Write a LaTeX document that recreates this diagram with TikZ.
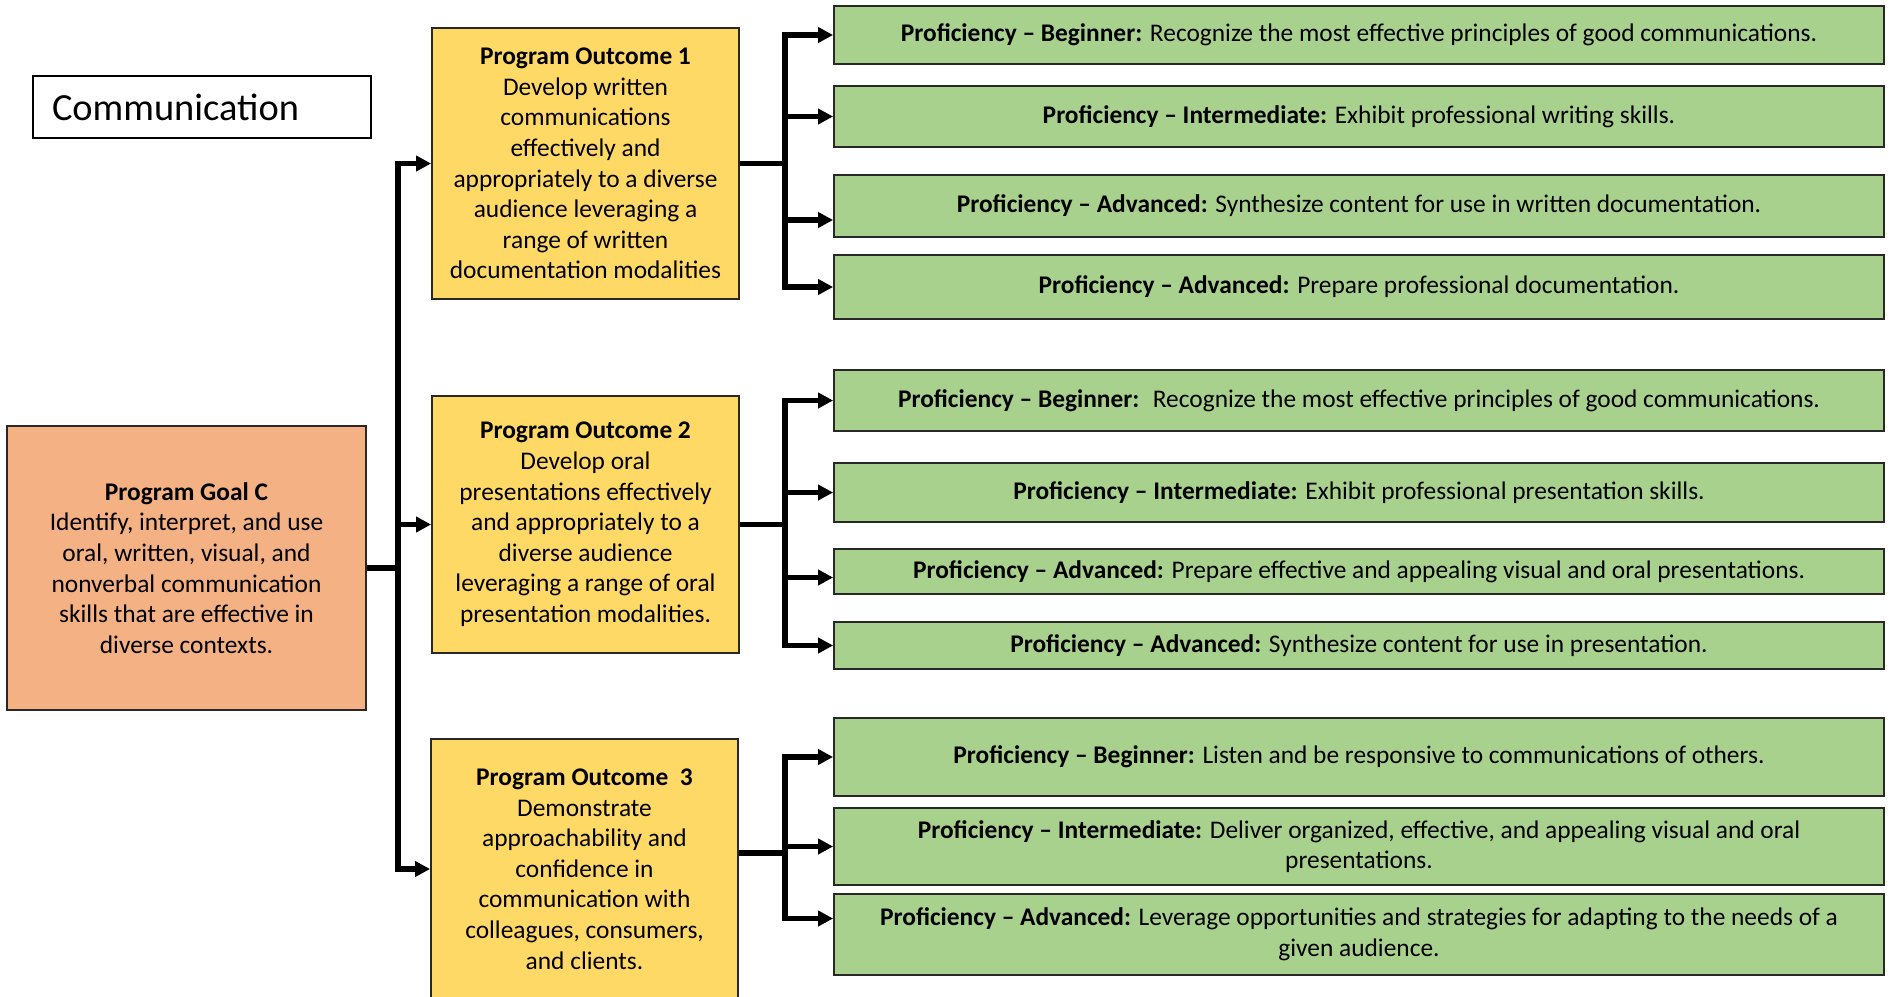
\documentclass[tikz,border=0pt]{standalone}
\usepackage{fontspec}
\setmainfont{Carlito}
\usetikzlibrary{arrows.meta}
\definecolor{goalfill}{RGB}{244,177,131}
\definecolor{outfill}{RGB}{255,217,102}
\definecolor{levelfill}{RGB}{169,209,142}
\definecolor{edge}{RGB}{40,40,40}
\begin{document}
\begin{tikzpicture}[x=0.5pt,y=-0.5pt,
  txt/.style={font=\fontsize{12.7pt}{15.3pt}\selectfont, align=center, inner sep=0pt},
  goalbox/.style={txt, draw=edge, line width=0.9pt, fill=goalfill, minimum width=179.5pt},
  outbox/.style={txt, draw=edge, line width=0.9pt, fill=outfill, minimum width=153.5pt},
  levelbox/.style={txt, draw=edge, line width=0.9pt, fill=levelfill, minimum width=525pt},
  titlebox/.style={draw=black, line width=1.3pt, fill=white, minimum width=169pt, minimum height=31pt,
    text width=150pt, align=left, inner xsep=9pt, font=\fontsize{19.2pt}{22pt}\selectfont},
  link/.style={line width=2.7pt, line cap=butt, -{Triangle[length=7.5pt,width=7.5pt]}}
]
\useasboundingbox (0,0) rectangle (1893,996);
\clip (0,0) rectangle (1893,996);

% heading
\node[titlebox] (title) at (202,107) {Communication};

% program goal
\node[goalbox, minimum height=142pt] (goal) at (186.5,568)
  {\textbf{Program Goal C}\\Identify, interpret, and use\\oral, written, visual, and\\nonverbal communication\\skills that are effective in\\diverse contexts.};

% program outcomes
\node[outbox, minimum height=135.5pt] (o1) at (585.5,163.5)
  {\textbf{Program Outcome 1}\\Develop written\\communications\\effectively and\\appropriately to a diverse\\audience leveraging a\\range of written\\documentation modalities};
\node[outbox, minimum height=128.5pt] (o2) at (585.5,524.5)
  {\textbf{Program Outcome 2}\\Develop oral\\presentations effectively\\and appropriately to a\\diverse audience\\leveraging a range of oral\\presentation modalities.};
\node[outbox, minimum height=130pt] (o3) at (584.5,869)
  {\textbf{Program Outcome \ 3}\\Demonstrate\\approachability and\\confidence in\\communication with\\colleagues, consumers,\\and clients.};

% proficiency levels, outcome 1
\node[levelbox, minimum height=29pt] (g1) at (1359,35)
  {\textbf{Proficiency -- Beginner:} Recognize the most effective principles of good communications.};
\node[levelbox, minimum height=30.5pt] (g2) at (1359,116.5)
  {\textbf{Proficiency -- Intermediate:} Exhibit professional writing skills.};
\node[levelbox, minimum height=31pt] (g3) at (1359,206)
  {\textbf{Proficiency -- Advanced:} Synthesize content for use in written documentation.};
\node[levelbox, minimum height=32pt] (g4) at (1359,287)
  {\textbf{Proficiency -- Advanced:} Prepare professional documentation.};

% proficiency levels, outcome 2
\node[levelbox, minimum height=30.5pt] (g5) at (1359,400.5)
  {\textbf{Proficiency -- Beginner:} \ Recognize the most effective principles of good communications.};
\node[levelbox, minimum height=29.5pt] (g6) at (1359,492.5)
  {\textbf{Proficiency -- Intermediate:} Exhibit professional presentation skills.};
\node[levelbox, minimum height=22.5pt] (g7) at (1359,571.5)
  {\textbf{Proficiency -- Advanced:} Prepare effective and appealing visual and oral presentations.};
\node[levelbox, minimum height=23.5pt] (g8) at (1359,645.5)
  {\textbf{Proficiency -- Advanced:} Synthesize content for use in presentation.};

% proficiency levels, outcome 3
\node[levelbox, minimum height=39pt] (g9) at (1359,757)
  {\textbf{Proficiency -- Beginner:} Listen and be responsive to communications of others.};
\node[levelbox, minimum height=38.5pt] (g10) at (1359,846.5)
  {\textbf{Proficiency -- Intermediate:} Deliver organized, effective, and appealing visual and oral\\presentations.};
\node[levelbox, minimum height=40.5pt] (g11) at (1359,934.5)
  {\textbf{Proficiency -- Advanced:} Leverage opportunities and strategies for adapting to the needs of a\\given audience.};

% bus positions
\coordinate (gx) at (398,0);
\coordinate (ox) at (785,0);

% goal to outcomes
\draw[link] (goal.east) -- (goal.east -| gx) |- (o1.west);
\draw[link] (goal.east) -- (goal.east -| gx) |- (o2.west);
\draw[link] (goal.east) -- (goal.east -| gx) |- (o3.west);

% outcome 1 to its levels
\draw[link] (o1.east) -- (o1.east -| ox) |- (g1.west);
\draw[link] (o1.east) -- (o1.east -| ox) |- (g2.west);
\draw[link] (o1.east) -- (o1.east -| ox) |- ([yshift=-7pt]g3.west);
\draw[link] (o1.east) -- (o1.east -| ox) |- (g4.west);

% outcome 2 to its levels
\draw[link] (o2.east) -- (o2.east -| ox) |- (g5.west);
\draw[link] (o2.east) -- (o2.east -| ox) |- (g6.west);
\draw[link] (o2.east) -- (o2.east -| ox) |- ([yshift=-3pt]g7.west);
\draw[link] (o2.east) -- (o2.east -| ox) |- (g8.west);

% outcome 3 to its levels
\draw[link] ([yshift=8pt]o3.east) -- ([yshift=8pt]o3.east -| ox) |- (g9.west);
\draw[link] ([yshift=8pt]o3.east) -- ([yshift=8pt]o3.east -| ox) |- (g10.west);
\draw[link] ([yshift=8pt]o3.east) -- ([yshift=8pt]o3.east -| ox) |- ([yshift=8pt]g11.west);
\end{tikzpicture}
\end{document}
